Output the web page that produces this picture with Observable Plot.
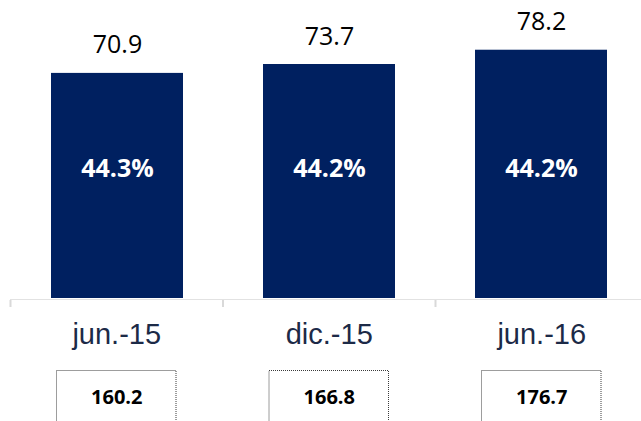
<!DOCTYPE html>
<html>
<head>
<meta charset="utf-8">
<script src="https://cdn.jsdelivr.net/npm/d3@7"></script>
<script src="https://cdn.jsdelivr.net/npm/@observablehq/plot@0.6"></script>
<style>
  html, body { margin: 0; padding: 0; background: #fff; overflow: hidden; }
  #chart svg { display: block; }
</style>
</head>
<body>
<div id="chart"></div>
<script>
const categories = ["jun.-15", "dic.-15", "jun.-16"];
const values = [70.9, 73.7, 78.2];
const shares = ["44.3%", "44.2%", "44.2%"];
const totals = ["160.2", "166.8", "176.7"];

const bars = categories.map((c, i) => ({cat: c, value: values[i], share: shares[i]}));
const lower = categories.map((c, i) => ({cat: c, idx: i, total: totals[i]}));

const navy = "#002060";

const barChart = Plot.plot({
  width: 641,
  height: 300,
  marginTop: 0,
  marginBottom: 2,
  marginLeft: 10,
  marginRight: 0,
  x: {domain: categories, paddingInner: 0.3765, paddingOuter: 0.1729, align: 0.544, axis: null},
  y: {domain: [0, 93.86], axis: null},
  marks: [
    Plot.barY(bars, {x: "cat", y: "value", fill: navy}),
    Plot.ruleY([0], {stroke: "#d9d9d9", strokeWidth: 2.2, dy: 1.8}),
    Plot.text(bars, {x: "cat", y: "value", text: d => d.value.toFixed(1), dy: -28,
      fontFamily: "Open Sans", fontSize: 25, fill: "#000"}),
    Plot.text(bars, {x: "cat", text: "share", frameAnchor: "top", lineAnchor: "middle", dy: 168,
      fontFamily: "Open Sans", fontWeight: "bold", fontSize: 25, fill: "#fff"})
  ]
});

const lowerChart = Plot.plot({
  width: 641,
  height: 140,
  marginTop: 0,
  marginBottom: 0,
  marginLeft: 0,
  marginRight: 0,
  x: {domain: [0, 3], range: [10, 647.5], axis: null},
  marks: [
    Plot.ruleX([0, 1, 2], {stroke: "#d9d9d9", strokeWidth: 2, insetBottom: 133}),
    Plot.text(lower, {x: d => d.idx + 0.5, text: "cat", frameAnchor: "top", lineAnchor: "middle", dy: 34,
      fontFamily: "Liberation Sans, Arial", fontSize: 29, fill: "#1c2a47"}),
    Plot.rect(lower, {x1: "idx", x2: d => d.idx + 1, insetLeft: 46.5, insetRight: 46.5, insetTop: 70.5,
      fill: "none", stroke: "#3a3a3a", strokeWidth: 1, strokeDasharray: "1,1"}),
    Plot.text(lower, {x: d => d.idx + 0.5, text: "total", frameAnchor: "top", lineAnchor: "middle", dy: 97.5,
      fontFamily: "Open Sans", fontWeight: "bold", fontSize: 20, fill: "#000"})
  ]
});

document.getElementById("chart").append(barChart, lowerChart);
</script>
</body>
</html>
